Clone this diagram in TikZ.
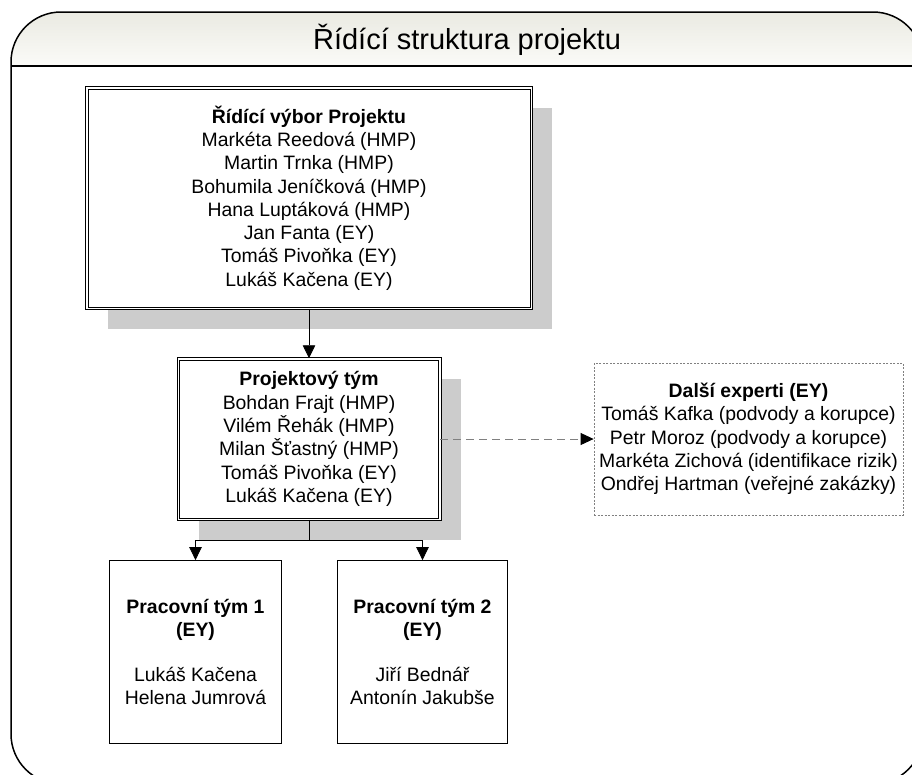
\documentclass[tikz,border=0pt]{standalone}
\usepackage{fontspec}
\setmainfont{Liberation Sans}
\usetikzlibrary{arrows.meta, shadows}
\definecolor{shadowgray}{RGB}{204,204,204}
\definecolor{headtop}{RGB}{234,234,226}
\definecolor{headbottom}{RGB}{251,251,248}
\definecolor{dashgray}{RGB}{128,128,128}

\begin{document}
\begin{tikzpicture}[x=1pt, y=-1pt,
    boxtext/.style={align=center, inner sep=0pt, font=\fontsize{19.4pt}{23.3pt}\selectfont},
    doublebox/.style={boxtext, draw, fill=white, line width=1pt, double=white, double distance=1.5pt, drop shadow={shadow xshift=21pt, shadow yshift=-20.5pt, fill=shadowgray, opacity=1}},
    plainbox/.style={boxtext, draw, fill=white, line width=0.8pt},
    dashbox/.style={boxtext, draw=dashgray, line width=0.8pt, dash pattern=on 2pt off 1.5pt},
    link/.style={line width=0.8pt, -{Triangle[length=13pt, width=12.5pt]}},
    dashlink/.style={line width=0.9pt, dashgray, dash pattern=on 8pt off 5pt, -{Triangle[length=13pt, width=12pt, color=black]}}]
    \useasboundingbox (0,0) rectangle (912,774);
    \clip (0,0) rectangle (912,774);

    \begin{scope}
        \clip[rounded corners=50pt] (11,12) rectangle (923,784);
        \shade[top color=headtop, bottom color=headbottom] (11,12) rectangle (923,66);
    \end{scope}
    \draw[line width=1.5pt, rounded corners=50pt] (11,12) rectangle (923,784);
    \draw[line width=1.5pt] (11,66) -- (923,66);
    \node[anchor=base, font=\fontsize{29pt}{34pt}\selectfont] (title) at (467,49) {Řídící struktura projektu};

    \node[doublebox, minimum width=444.5pt, minimum height=220.5pt] (vybor) at (309,198) {\textbf{Řídící výbor Projektu}\\Markéta Reedová (HMP)\\Martin Trnka (HMP)\\Bohumila Jeníčková (HMP)\\Hana Luptáková (HMP)\\Jan Fanta (EY)\\Tomáš Pivoňka (EY)\\Lukáš Kačena (EY)};
    \node[doublebox, minimum width=261.5pt, minimum height=160.5pt] (tym) at (309,439) {\textbf{Projektový tým}\\Bohdan Frajt (HMP)\\Vilém Řehák (HMP)\\Milan Šťastný (HMP)\\Tomáš Pivoňka (EY)\\Lukáš Kačena (EY)};
    \node[dashbox, minimum width=309pt, minimum height=152pt] (experti) at (748.5,439) {\textbf{Další experti (EY)}\\Tomáš Kafka (podvody a korupce)\\Petr Moroz (podvody a korupce)\\Markéta Zichová (identifikace rizik)\\Ondřej Hartman (veřejné zakázky)};
    \node[plainbox, minimum width=172pt, minimum height=183pt] (prac1) at (195.5,652) {\textbf{Pracovní tým 1}\\\textbf{(EY)}\\[21.7pt]Lukáš Kačena\\Helena Jumrová};
    \node[plainbox, minimum width=170.5pt, minimum height=183pt] (prac2) at (422.5,652) {\textbf{Pracovní tým 2}\\\textbf{(EY)}\\[21.7pt]Jiří Bednář\\Antonín Jakubše};

    \coordinate (split) at (309,540);
    \draw[link] (vybor.south) -- (tym.north);
    \draw[line width=0.8pt] (tym.south) -- (split);
    \draw[link] (split) -| (prac1.north);
    \draw[link] (split) -| (prac2.north);
    \draw[dashlink] (tym.east) -- (experti.west);
\end{tikzpicture}
\end{document}
